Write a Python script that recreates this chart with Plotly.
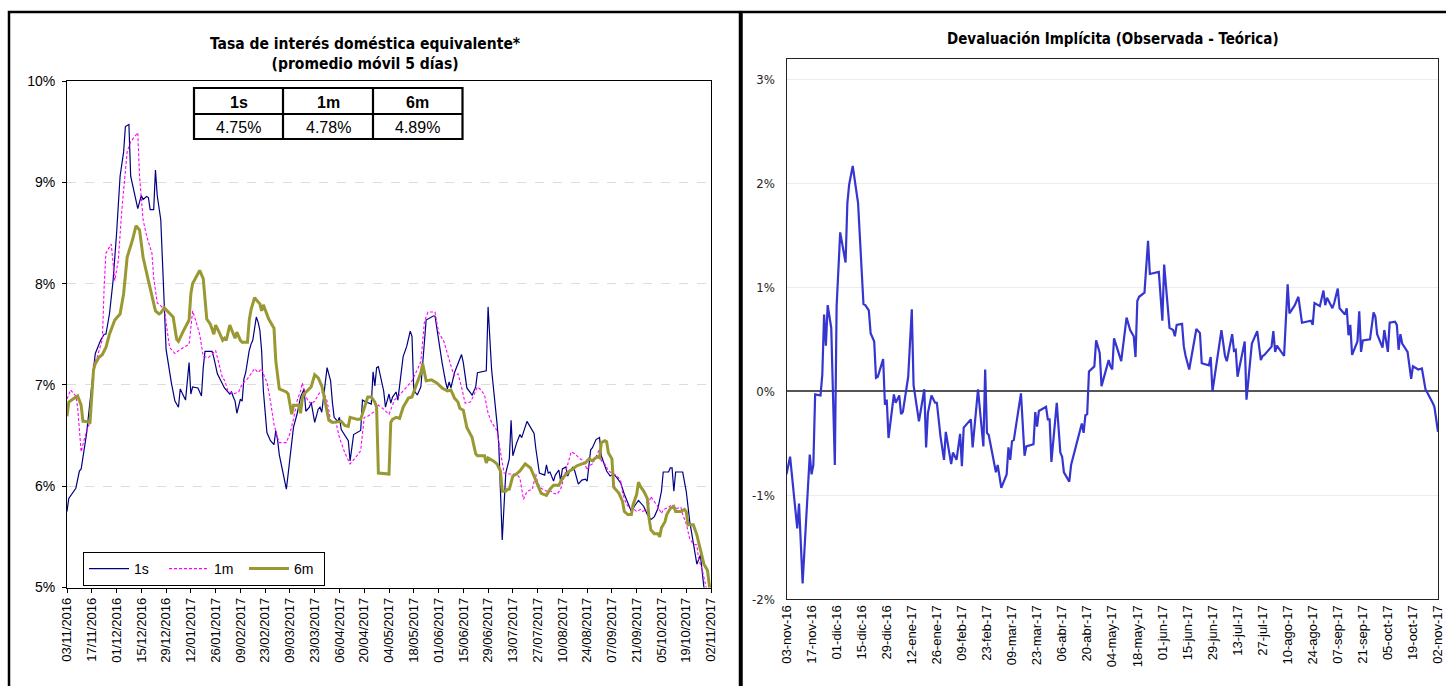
import plotly.graph_objects as go

W, H = 1446, 686

# ---------------- data: left chart (tasa de interés doméstica equivalente, %) ----------------
fechas_1s = ["2016-11-03","2016-11-04","2016-11-08","2016-11-10","2016-11-11","2016-11-14","2016-11-18","2016-11-19","2016-11-22","2016-11-24",
"2016-11-25","2016-11-27","2016-11-29","2016-12-01","2016-12-03","2016-12-05","2016-12-06","2016-12-08","2016-12-09","2016-12-13",
"2016-12-15","2016-12-16","2016-12-18","2016-12-19","2016-12-20","2016-12-22","2016-12-23","2016-12-24","2016-12-26","2016-12-28",
"2016-12-29","2017-01-01","2017-01-03","2017-01-05","2017-01-06","2017-01-09","2017-01-11","2017-01-12","2017-01-13","2017-01-16",
"2017-01-18","2017-01-19","2017-01-20","2017-01-24","2017-01-25","2017-01-27","2017-01-31","2017-02-03","2017-02-04","2017-02-05",
"2017-02-06","2017-02-07","2017-02-09","2017-02-10","2017-02-11","2017-02-12","2017-02-14","2017-02-15","2017-02-16","2017-02-18",
"2017-02-19","2017-02-20","2017-02-21","2017-02-22","2017-02-24","2017-02-26","2017-02-28","2017-03-01","2017-03-02","2017-03-03",
"2017-03-06","2017-03-07","2017-03-08","2017-03-11","2017-03-13","2017-03-14","2017-03-15","2017-03-17","2017-03-18","2017-03-20",
"2017-03-21","2017-03-23","2017-03-25","2017-03-26","2017-03-27","2017-03-30","2017-04-01","2017-04-02","2017-04-03","2017-04-05",
"2017-04-06","2017-04-07","2017-04-11","2017-04-12","2017-04-14","2017-04-18","2017-04-19","2017-04-20","2017-04-24","2017-04-25",
"2017-04-26","2017-04-27","2017-04-28","2017-05-01","2017-05-02","2017-05-04","2017-05-05","2017-05-06","2017-05-08","2017-05-09",
"2017-05-12","2017-05-14","2017-05-16","2017-05-17","2017-05-18","2017-05-20","2017-05-22","2017-05-25","2017-05-29","2017-05-30",
"2017-06-01","2017-06-03","2017-06-05","2017-06-06","2017-06-07","2017-06-08","2017-06-10","2017-06-12","2017-06-14","2017-06-15",
"2017-06-17","2017-06-20","2017-06-22","2017-06-23","2017-06-26","2017-06-28","2017-06-29","2017-07-01","2017-07-04","2017-07-05",
"2017-07-07","2017-07-08","2017-07-09","2017-07-11","2017-07-12","2017-07-13","2017-07-15","2017-07-17","2017-07-18","2017-07-21",
"2017-07-23","2017-07-25","2017-07-26","2017-07-28","2017-07-31","2017-08-01","2017-08-02","2017-08-03","2017-08-05","2017-08-06",
"2017-08-08","2017-08-09","2017-08-10","2017-08-12","2017-08-13","2017-08-14","2017-08-16","2017-08-17","2017-08-19","2017-08-21",
"2017-08-23","2017-08-24","2017-08-26","2017-08-27","2017-08-29","2017-08-31","2017-09-01","2017-09-02","2017-09-04","2017-09-06",
"2017-09-08","2017-09-10","2017-09-12","2017-09-14","2017-09-16","2017-09-18","2017-09-20","2017-09-22","2017-09-25","2017-09-27",
"2017-09-29","2017-10-01","2017-10-03","2017-10-05","2017-10-06","2017-10-09","2017-10-10","2017-10-11","2017-10-12","2017-10-13",
"2017-10-17","2017-10-19","2017-10-21","2017-10-23","2017-10-25","2017-10-27","2017-10-29","2017-11-02"]
tasa_1s = [5.75,5.88,5.98,6.15,6.17,6.51,7.16,7.31,7.44,7.50,
7.50,7.70,8.02,8.49,9.06,9.30,9.55,9.57,9.06,8.74,
8.87,8.83,8.86,8.85,8.73,8.73,9.12,8.87,8.63,7.70,
7.35,7.02,6.84,6.78,6.96,6.85,7.22,6.91,6.98,6.97,
6.89,7.17,7.33,7.33,7.27,7.11,6.97,6.91,6.93,6.88,
6.84,6.72,6.86,6.84,7.06,7.12,7.34,7.40,7.44,7.67,
7.62,7.54,7.34,6.94,6.53,6.45,6.41,6.55,6.46,6.31,
6.05,5.97,6.12,6.58,6.71,6.81,6.88,6.96,6.74,6.78,
6.83,6.63,6.76,6.78,6.73,7.17,7.04,6.83,6.68,6.64,
6.68,6.56,6.45,6.25,6.51,6.55,6.85,6.84,6.81,7.13,
6.99,7.17,7.18,6.94,6.78,6.91,6.82,6.88,6.93,6.85,
7.28,7.38,7.53,7.48,6.95,6.90,6.98,7.64,7.68,7.68,
7.43,7.22,7.03,6.96,7.03,6.97,7.12,7.22,7.30,7.22,
6.97,6.90,6.98,7.12,7.13,7.14,7.77,7.15,6.63,6.43,
5.47,5.85,6.13,6.27,6.65,6.30,6.42,6.51,6.48,6.64,
6.58,6.52,6.37,6.13,6.11,6.21,6.13,6.14,6.05,6.11,
6.16,6.05,6.17,6.19,6.10,6.14,6.19,6.15,6.02,6.06,
6.07,6.05,6.36,6.38,6.46,6.48,6.30,6.25,6.15,6.10,
6.12,6.08,6.03,5.92,5.84,5.75,5.81,5.86,5.80,5.72,
5.67,5.70,5.78,5.95,6.14,6.14,6.18,6.18,5.95,6.14,
6.14,5.95,5.65,5.42,5.23,5.32,5.00,4.75]

fechas_1m = ["2016-11-03","2016-11-05","2016-11-08","2016-11-09","2016-11-11","2016-11-13","2016-11-16","2016-11-18","2016-11-20","2016-11-23",
"2016-11-24","2016-11-25","2016-11-27","2016-11-28","2016-11-30","2016-12-02","2016-12-04","2016-12-07","2016-12-09","2016-12-13",
"2016-12-14","2016-12-16","2016-12-18","2016-12-21","2016-12-22","2016-12-24","2016-12-26","2016-12-28","2016-12-30","2016-12-31",
"2017-01-03","2017-01-06","2017-01-11","2017-01-13","2017-01-15","2017-01-17","2017-01-19","2017-01-22","2017-01-26","2017-01-28",
"2017-01-30","2017-01-31","2017-02-02","2017-02-05","2017-02-08","2017-02-10","2017-02-13","2017-02-15","2017-02-17","2017-02-19",
"2017-02-21","2017-02-23","2017-02-24","2017-02-26","2017-02-28","2017-03-02","2017-03-03","2017-03-07","2017-03-09","2017-03-11",
"2017-03-13","2017-03-15","2017-03-16","2017-03-18","2017-03-19","2017-03-21","2017-03-23","2017-03-26","2017-03-28","2017-03-30",
"2017-04-01","2017-04-04","2017-04-06","2017-04-09","2017-04-12","2017-04-15","2017-04-18","2017-04-20","2017-04-22","2017-04-26",
"2017-04-28","2017-05-01","2017-05-04","2017-05-06","2017-05-07","2017-05-09","2017-05-11","2017-05-14","2017-05-17","2017-05-20",
"2017-05-22","2017-05-24","2017-05-26","2017-05-30","2017-06-01","2017-06-04","2017-06-06","2017-06-07","2017-06-09","2017-06-10",
"2017-06-12","2017-06-14","2017-06-16","2017-06-19","2017-06-21","2017-06-23","2017-06-25","2017-06-27","2017-06-29","2017-07-01",
"2017-07-04","2017-07-06","2017-07-08","2017-07-11","2017-07-15","2017-07-17","2017-07-19","2017-07-21","2017-07-24","2017-07-26",
"2017-07-27","2017-07-29","2017-08-01","2017-08-03","2017-08-05","2017-08-07","2017-08-09","2017-08-11","2017-08-13","2017-08-15",
"2017-08-17","2017-08-20","2017-08-22","2017-08-24","2017-08-25","2017-08-27","2017-08-29","2017-08-31","2017-09-01","2017-09-03",
"2017-09-05","2017-09-07","2017-09-10","2017-09-12","2017-09-13","2017-09-15","2017-09-17","2017-09-19","2017-09-21","2017-09-23",
"2017-09-24","2017-09-27","2017-09-29","2017-09-30","2017-10-03","2017-10-05","2017-10-06","2017-10-09","2017-10-11","2017-10-13",
"2017-10-16","2017-10-17","2017-10-19","2017-10-21","2017-10-23","2017-10-25","2017-10-26","2017-10-28","2017-10-30","2017-11-02"]
tasa_1m = [6.86,6.95,6.89,6.78,6.34,6.48,6.64,7.21,7.27,7.45,
7.97,8.30,8.36,8.39,8.03,8.23,8.73,9.30,9.40,9.49,
9.06,8.63,8.47,8.30,8.06,7.81,7.78,7.75,7.49,7.37,
7.31,7.35,7.40,7.73,7.62,7.50,7.28,7.27,7.34,7.21,
7.06,7.05,6.94,6.91,6.93,7.01,7.06,7.11,7.16,7.12,
7.16,7.06,7.03,6.84,6.61,6.48,6.43,6.43,6.52,6.66,
6.84,6.94,7.02,6.89,6.85,6.81,6.84,6.93,6.93,6.84,
6.65,6.63,6.48,6.33,6.22,6.28,6.35,6.68,6.69,6.74,
6.80,6.76,6.71,6.80,6.85,6.88,6.92,6.98,7.04,7.15,
7.23,7.62,7.72,7.72,7.52,7.43,7.32,7.25,7.13,7.09,
7.11,6.98,6.82,6.83,6.90,6.98,6.95,6.90,6.72,6.63,
6.55,6.35,6.13,6.12,6.12,6.08,5.87,5.95,5.97,6.12,
6.03,5.98,5.95,5.96,5.93,5.92,5.97,6.09,6.22,6.34,
6.32,6.27,6.25,6.16,6.20,6.22,6.29,6.37,6.25,6.22,
6.15,6.13,6.10,6.05,5.93,5.83,5.78,5.78,5.75,5.77,
5.75,5.77,5.90,5.87,5.80,5.73,5.77,5.79,5.82,5.78,
5.79,5.72,5.63,5.48,5.43,5.42,5.28,5.18,5.00,4.78]

fechas_6m = ["2016-11-03","2016-11-04","2016-11-08","2016-11-09","2016-11-11","2016-11-12","2016-11-13","2016-11-16","2016-11-18","2016-11-19",
"2016-11-21","2016-11-23","2016-11-25","2016-11-27","2016-11-30","2016-12-03","2016-12-05","2016-12-07","2016-12-10","2016-12-12",
"2016-12-14","2016-12-16","2016-12-19","2016-12-21","2016-12-23","2016-12-25","2016-12-26","2016-12-28","2016-12-30","2017-01-02",
"2017-01-04","2017-01-05","2017-01-08","2017-01-11","2017-01-12","2017-01-13","2017-01-17","2017-01-19","2017-01-21","2017-01-23",
"2017-01-25","2017-01-26","2017-01-28","2017-01-30","2017-01-31","2017-02-01","2017-02-03","2017-02-05","2017-02-06","2017-02-07",
"2017-02-09","2017-02-10","2017-02-13","2017-02-14","2017-02-15","2017-02-17","2017-02-20","2017-02-21","2017-02-22","2017-02-25",
"2017-02-28","2017-03-01","2017-03-03","2017-03-07","2017-03-08","2017-03-10","2017-03-11","2017-03-14","2017-03-15","2017-03-16",
"2017-03-17","2017-03-21","2017-03-23","2017-03-25","2017-03-27","2017-03-28","2017-03-31","2017-04-02","2017-04-05","2017-04-07",
"2017-04-09","2017-04-11","2017-04-12","2017-04-16","2017-04-18","2017-04-20","2017-04-22","2017-04-24","2017-04-26","2017-04-27",
"2017-04-28","2017-05-04","2017-05-05","2017-05-06","2017-05-08","2017-05-10","2017-05-12","2017-05-15","2017-05-17","2017-05-19",
"2017-05-22","2017-05-23","2017-05-25","2017-05-28","2017-05-31","2017-06-03","2017-06-06","2017-06-08","2017-06-10","2017-06-12",
"2017-06-13","2017-06-15","2017-06-17","2017-06-20","2017-06-22","2017-06-23","2017-06-27","2017-06-28","2017-06-29","2017-07-02",
"2017-07-04","2017-07-06","2017-07-07","2017-07-09","2017-07-10","2017-07-11","2017-07-13","2017-07-15","2017-07-17","2017-07-20",
"2017-07-23","2017-07-25","2017-07-27","2017-07-29","2017-08-01","2017-08-03","2017-08-05","2017-08-08","2017-08-10","2017-08-12",
"2017-08-14","2017-08-16","2017-08-18","2017-08-21","2017-08-23","2017-08-25","2017-08-27","2017-08-28","2017-08-30","2017-08-31",
"2017-09-01","2017-09-03","2017-09-04","2017-09-05","2017-09-07","2017-09-08","2017-09-11","2017-09-13","2017-09-14","2017-09-16",
"2017-09-18","2017-09-19","2017-09-21","2017-09-22","2017-09-23","2017-09-25","2017-09-27","2017-09-28","2017-09-29","2017-10-01",
"2017-10-03","2017-10-04","2017-10-05","2017-10-07","2017-10-08","2017-10-10","2017-10-12","2017-10-13","2017-10-16","2017-10-18",
"2017-10-19","2017-10-20","2017-10-23","2017-10-25","2017-10-26","2017-10-28","2017-10-29","2017-10-31","2017-11-01","2017-11-02"]
tasa_6m = [6.69,6.83,6.88,6.89,6.80,6.64,6.64,6.63,7.15,7.21,
7.27,7.30,7.37,7.50,7.64,7.70,7.90,8.26,8.43,8.57,
8.53,8.26,8.03,7.87,7.73,7.70,7.71,7.76,7.72,7.67,
7.45,7.43,7.54,7.64,7.90,8.00,8.13,8.05,7.65,7.60,
7.50,7.59,7.52,7.44,7.46,7.44,7.59,7.50,7.46,7.52,
7.44,7.42,7.42,7.64,7.74,7.86,7.80,7.73,7.79,7.65,
7.56,7.24,6.96,6.93,6.91,6.71,6.80,6.80,6.72,6.87,
6.91,6.98,7.10,7.07,6.99,6.91,6.65,6.63,6.64,6.64,
6.60,6.59,6.68,6.66,6.66,6.78,6.88,6.88,6.83,6.78,
6.13,6.12,6.63,6.66,6.68,6.67,6.78,6.87,6.88,6.98,
7.12,7.21,7.04,7.05,7.02,6.97,6.94,6.95,6.87,6.83,
6.77,6.75,6.58,6.48,6.32,6.30,6.30,6.23,6.28,6.25,
6.22,6.15,5.95,5.95,5.97,5.97,6.10,6.12,6.15,6.22,
6.18,6.10,6.02,5.93,5.91,5.97,6.01,6.01,6.08,6.12,
6.15,6.17,6.20,6.22,6.23,6.27,6.25,6.27,6.29,6.28,
6.43,6.45,6.44,6.33,6.27,5.99,5.93,5.85,5.75,5.72,
5.72,5.82,5.92,6.04,6.00,5.95,5.88,5.68,5.57,5.53,
5.53,5.50,5.59,5.65,5.72,5.78,5.80,5.75,5.75,5.77,
5.75,5.62,5.62,5.52,5.45,5.28,5.23,5.17,5.00,4.89]

# summary table (latest values)
tabla_plazos = ["1s", "1m", "6m"]
tabla_valores = ["4.75%", "4.78%", "4.89%"]

# ---------------- data: right chart (devaluación implícita, %) ----------------
fechas_dev = ["2016-11-03","2016-11-05","2016-11-09","2016-11-10","2016-11-12","2016-11-16","2016-11-17","2016-11-18","2016-11-19","2016-11-22",
"2016-11-23","2016-11-24","2016-11-25","2016-11-26","2016-11-28","2016-11-30","2016-12-01","2016-12-03","2016-12-06","2016-12-07",
"2016-12-08","2016-12-10","2016-12-13","2016-12-16","2016-12-17","2016-12-19","2016-12-20","2016-12-22","2016-12-23","2016-12-24",
"2016-12-27","2016-12-28","2016-12-29","2016-12-30","2017-01-02","2017-01-03","2017-01-05","2017-01-06","2017-01-07","2017-01-10",
"2017-01-12","2017-01-13","2017-01-16","2017-01-19","2017-01-20","2017-01-21","2017-01-23","2017-01-25","2017-01-26","2017-01-28",
"2017-01-30","2017-01-31","2017-02-03","2017-02-04","2017-02-06","2017-02-08","2017-02-09","2017-02-10","2017-02-14","2017-02-15",
"2017-02-18","2017-02-21","2017-02-22","2017-02-23","2017-02-24","2017-02-28","2017-03-01","2017-03-03","2017-03-06","2017-03-07",
"2017-03-08","2017-03-09","2017-03-10","2017-03-14","2017-03-16","2017-03-17","2017-03-21","2017-03-22","2017-03-23","2017-03-24",
"2017-03-28","2017-03-29","2017-03-30","2017-03-31","2017-04-03","2017-04-05","2017-04-06","2017-04-07","2017-04-10","2017-04-11",
"2017-04-17","2017-04-18","2017-04-19","2017-04-20","2017-04-21","2017-04-24","2017-04-25","2017-04-27","2017-04-28","2017-05-02",
"2017-05-03","2017-05-04","2017-05-05","2017-05-09","2017-05-12","2017-05-14","2017-05-16","2017-05-17","2017-05-18","2017-05-19",
"2017-05-22","2017-05-24","2017-05-25","2017-05-30","2017-06-01","2017-06-02","2017-06-05","2017-06-06","2017-06-07","2017-06-08",
"2017-06-09","2017-06-12","2017-06-13","2017-06-14","2017-06-16","2017-06-20","2017-06-22","2017-06-23","2017-06-27","2017-06-28",
"2017-06-29","2017-07-04","2017-07-06","2017-07-07","2017-07-10","2017-07-11","2017-07-12","2017-07-13","2017-07-17","2017-07-18",
"2017-07-21","2017-07-24","2017-07-26","2017-07-27","2017-07-28","2017-08-01","2017-08-02","2017-08-03","2017-08-04","2017-08-08",
"2017-08-10","2017-08-11","2017-08-14","2017-08-16","2017-08-18","2017-08-23","2017-08-24","2017-08-25","2017-08-28","2017-08-30",
"2017-08-31","2017-09-01","2017-09-04","2017-09-05","2017-09-07","2017-09-08","2017-09-11","2017-09-12","2017-09-13","2017-09-14",
"2017-09-15","2017-09-18","2017-09-19","2017-09-20","2017-09-21","2017-09-25","2017-09-27","2017-09-28","2017-09-29","2017-10-02",
"2017-10-03","2017-10-05","2017-10-06","2017-10-09","2017-10-10","2017-10-11","2017-10-12","2017-10-13","2017-10-16","2017-10-18",
"2017-10-19","2017-10-22","2017-10-24","2017-10-26","2017-10-28","2017-10-30","2017-10-31","2017-11-02"]
devaluacion = [-0.80,-0.63,-1.32,-1.08,-1.85,-0.61,-0.80,-0.71,-0.03,-0.04,
0.16,0.74,0.44,0.83,0.61,-0.71,0.82,1.53,1.24,1.81,
1.99,2.17,1.81,0.84,0.83,0.78,0.56,0.48,0.13,0.14,
0.31,-0.13,-0.08,-0.45,-0.03,-0.11,-0.04,-0.22,-0.20,0.14,
0.79,0.06,-0.29,0.02,-0.54,-0.21,-0.04,-0.11,-0.11,-0.43,
-0.66,-0.39,-0.70,-0.59,-0.66,-0.41,-0.72,-0.35,-0.27,-0.54,
0.02,-0.53,0.21,-0.40,-0.42,-0.78,-0.71,-0.93,-0.80,-0.54,
-0.66,-0.48,-0.47,-0.02,-0.62,-0.53,-0.51,-0.20,-0.34,-0.19,
-0.15,-0.27,-0.27,-0.68,-0.11,-0.59,-0.63,-0.78,-0.87,-0.71,
-0.31,-0.40,-0.23,-0.22,0.19,0.24,0.49,0.37,0.05,0.30,
0.24,0.21,0.51,0.29,0.71,0.59,0.53,0.33,0.87,0.91,
0.95,1.45,1.13,1.15,0.68,1.22,0.61,0.60,0.59,0.53,
0.64,0.65,0.43,0.34,0.21,0.60,0.56,0.27,0.25,0.33,
0.00,0.59,0.34,0.29,0.55,0.39,0.40,0.14,0.48,-0.08,
0.46,0.58,0.30,0.34,0.35,0.43,0.58,0.38,0.44,0.34,
1.03,0.75,0.83,0.91,0.66,0.68,0.64,0.85,0.82,0.97,
0.83,0.90,0.80,0.85,0.99,0.80,0.74,0.80,0.54,0.64,
0.35,0.48,0.77,0.38,0.49,0.50,0.76,0.72,0.55,0.42,
0.59,0.38,0.66,0.67,0.64,0.40,0.55,0.46,0.38,0.12,
0.24,0.21,0.22,0.02,-0.04,-0.11,-0.15,-0.39]

# ---------------- tick labels ----------------
fechas_ticks = ["2016-11-03","2016-11-17","2016-12-01","2016-12-15","2016-12-29","2017-01-12","2017-01-26","2017-02-09","2017-02-23",
"2017-03-09","2017-03-23","2017-04-06","2017-04-20","2017-05-04","2017-05-18","2017-06-01","2017-06-15","2017-06-29","2017-07-13",
"2017-07-27","2017-08-10","2017-08-24","2017-09-07","2017-09-21","2017-10-05","2017-10-19","2017-11-02"]
etiquetas_izq = ["03/11/2016","17/11/2016","01/12/2016","15/12/2016","29/12/2016","12/01/2017","26/01/2017","09/02/2017","23/02/2017",
"09/03/2017","23/03/2017","06/04/2017","20/04/2017","04/05/2017","18/05/2017","01/06/2017","15/06/2017","29/06/2017","13/07/2017",
"27/07/2017","10/08/2017","24/08/2017","07/09/2017","21/09/2017","05/10/2017","19/10/2017","02/11/2017"]
etiquetas_der = ["03-nov-16","17-nov-16","01-dic-16","15-dic-16","29-dic-16","12-ene-17","26-ene-17","09-feb-17","23-feb-17",
"09-mar-17","23-mar-17","06-abr-17","20-abr-17","04-may-17","18-may-17","01-jun-17","15-jun-17","29-jun-17","13-jul-17",
"27-jul-17","10-ago-17","24-ago-17","07-sep-17","21-sep-17","05-oct-17","19-oct-17","02-nov-17"]
y_izq_vals = [5, 6, 7, 8, 9, 10]
y_izq_text = ["5%", "6%", "7%", "8%", "9%", "10%"]
y_der_vals = [-2, -1, 0, 1, 2, 3]
y_der_text = ["-2%", "-1%", "0%", "1%", "2%", "3%"]

# ---------------- styling ----------------
NARROW = "Liberation Sans Narrow, Arial Narrow, DejaVu Sans Condensed, sans-serif"
ARIAL = "Liberation Sans, Arial, sans-serif"

def px(xp):
    return xp / W

def py(yp):
    return 1 - yp / H

fig = go.Figure()
fig.add_trace(go.Scatter(x=fechas_1s, y=tasa_1s, mode="lines", name="1s",
                         line=dict(color="#000080", width=1.2), xaxis="x", yaxis="y"))
fig.add_trace(go.Scatter(x=fechas_1m, y=tasa_1m, mode="lines", name="1m",
                         line=dict(color="#FF00FF", width=1.1, dash="3px,2px"), xaxis="x", yaxis="y"))
fig.add_trace(go.Scatter(x=fechas_6m, y=tasa_6m, mode="lines", name="6m",
                         line=dict(color="#999933", width=3), xaxis="x", yaxis="y"))
fig.add_trace(go.Scatter(x=fechas_dev, y=devaluacion, mode="lines", name="Devaluación implícita",
                         line=dict(color="#3535CF", width=2.2), xaxis="x2", yaxis="y2", showlegend=False))

fig.update_layout(
    width=W, height=H, autosize=False,
    margin=dict(l=0, r=0, t=0, b=0, pad=0),
    paper_bgcolor="white", plot_bgcolor="white",
    showlegend=True,
    legend=dict(orientation="h", x=px(83), y=py(552), xanchor="left", yanchor="top",
                bordercolor="black", borderwidth=1, bgcolor="white",
                font=dict(family=ARIAL, size=14, color="black"),
                entrywidth=25, entrywidthmode="pixels", itemwidth=40,
                tracegroupgap=0),
    xaxis=dict(domain=[px(67), px(711)], anchor="y", type="date", automargin=False,
               range=["2016-11-03", "2017-11-02"],
               tickmode="array", tickvals=fechas_ticks, ticktext=etiquetas_izq, tickangle=-90,
               ticks="outside", ticklen=4, tickcolor="black",
               tickfont=dict(family=ARIAL, size=13, color="black"),
               showline=True, linecolor="black", linewidth=1, mirror=True, showgrid=False, zeroline=False),
    yaxis=dict(domain=[py(587.5), py(81)], anchor="x", range=[5, 10], automargin=False,
               tickmode="array", tickvals=y_izq_vals, ticktext=y_izq_text,
               ticks="outside", ticklen=4, tickcolor="black", ticklabelstandoff=4,
               tickfont=dict(family=ARIAL, size=14, color="black"),
               showline=True, linecolor="black", linewidth=1, mirror=True,
               showgrid=True, gridcolor="#dcdcdc", griddash="dash", gridwidth=1, zeroline=False),
    xaxis2=dict(domain=[px(786.5), px(1438)], anchor="y2", type="date", automargin=False,
                range=["2016-11-03", "2017-11-02"],
                tickmode="array", tickvals=fechas_ticks, ticktext=etiquetas_der, tickangle=-90,
                ticks="", tickfont=dict(family=ARIAL, size=13, color="black"),
                showline=True, linecolor="#222222", linewidth=1, mirror=True, showgrid=False, zeroline=False),
    yaxis2=dict(domain=[py(599), py(59)], anchor="x2", range=[-2, 3.2], automargin=False,
                tickmode="array", tickvals=y_der_vals, ticktext=y_der_text,
                ticks="", ticklabelstandoff=8, tickfont=dict(family=NARROW, size=13, color="#222222"),
                showline=True, linecolor="#222222", linewidth=1, mirror=True,
                showgrid=True, gridcolor="#ececec", gridwidth=1,
                zeroline=True, zerolinecolor="#555555", zerolinewidth=1.5),
)

shapes = []
# panel frames
shapes.append(dict(type="rect", xref="paper", yref="paper", x0=px(9), x1=px(740), y0=py(700), y1=py(12),
                   line=dict(color="black", width=2.5), fillcolor="rgba(0,0,0,0)", layer="above"))
shapes.append(dict(type="rect", xref="paper", yref="paper", x0=px(741.5), x1=px(1470), y0=py(700), y1=py(12),
                   line=dict(color="black", width=2.5), fillcolor="rgba(0,0,0,0)", layer="above"))
# summary table
tx0, tx1, ty0, ty1, tymid = 194, 462.5, 88, 139, 114
col_edges = [194, 283, 373, 462.5]
shapes.append(dict(type="rect", xref="paper", yref="paper", x0=px(tx0), x1=px(tx1), y0=py(ty1), y1=py(ty0),
                   line=dict(color="black", width=2.2), fillcolor="white", layer="above"))
for ce in col_edges[1:-1]:
    shapes.append(dict(type="line", xref="paper", yref="paper", x0=px(ce), x1=px(ce), y0=py(ty1), y1=py(ty0),
                       line=dict(color="black", width=2.2), layer="above"))
shapes.append(dict(type="line", xref="paper", yref="paper", x0=px(tx0), x1=px(tx1), y0=py(tymid), y1=py(tymid),
                   line=dict(color="black", width=2.2), layer="above"))
fig.update_layout(shapes=shapes)

annotations = []
annotations.append(dict(xref="paper", yref="paper", x=px(365), y=py(54), xanchor="center", yanchor="middle",
                        text="<b>Tasa de interés doméstica equivalente*</b><br><b>(promedio móvil 5 días)</b>",
                        showarrow=False, font=dict(family=NARROW, size=15.5, color="black")))
annotations.append(dict(xref="paper", yref="paper", x=px(1113), y=py(39), xanchor="center", yanchor="middle",
                        text="<b>Devaluación Implícita (Observada - Teórica)</b>",
                        showarrow=False, font=dict(family=NARROW, size=15, color="black")))
for i, (plazo, valor) in enumerate(zip(tabla_plazos, tabla_valores)):
    cx = (col_edges[i] + col_edges[i + 1]) / 2
    annotations.append(dict(xref="paper", yref="paper", x=px(cx), y=py((ty0 + tymid) / 2 + 1),
                            xanchor="center", yanchor="middle", text="<b>" + plazo + "</b>", showarrow=False,
                            font=dict(family=ARIAL, size=16, color="black")))
    annotations.append(dict(xref="paper", yref="paper", x=px(cx), y=py((tymid + ty1) / 2 + 1),
                            xanchor="center", yanchor="middle", text=valor, showarrow=False,
                            font=dict(family=ARIAL, size=16, color="black")))
fig.update_layout(annotations=annotations)

fig.write_html("out.html", config={"displayModeBar": False},
               post_script="document.body.style.margin='0';")
